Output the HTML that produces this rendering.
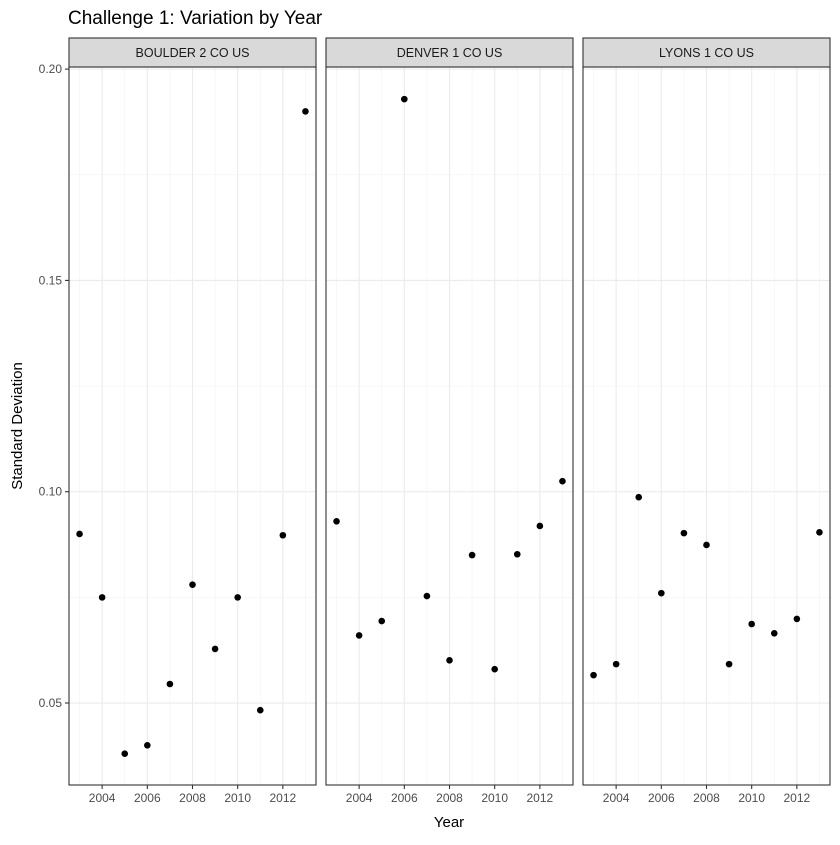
<!DOCTYPE html>
<html><head><meta charset="utf-8"><style>
body{margin:0;background:#fff;font-family:"Liberation Sans",Arial,sans-serif}
</style></head><body>
<svg id="chart" width="840" height="840" xmlns="http://www.w3.org/2000/svg" font-family="Liberation Sans, Arial, sans-serif"></svg>
<script>
const panels = ["BOULDER 2 CO US","DENVER 1 CO US","LYONS 1 CO US"];
const years = [2003,2004,2005,2006,2007,2008,2009,2010,2011,2012,2013];
const boulder = [0.090,0.075,0.038,0.040,0.0545,0.078,0.0628,0.075,0.0483,0.0897,0.190];
const denver = [0.093,0.066,0.0694,0.1929,0.0753,0.0601,0.085,0.058,0.0852,0.0919,0.1025];
const lyons = [0.0566,0.0592,0.0987,0.076,0.0902,0.0874,0.0592,0.0687,0.0665,0.0699,0.0904];
const series = [boulder, denver, lyons];
const xTicks = [2004,2006,2008,2010,2012];
const xMinor = [2003,2005,2007,2009,2011,2013];
const yTicks = [0.05,0.10,0.15,0.20];
const yTickLabels = ["0.05","0.10","0.15","0.20"];
const yMinor = [0.075,0.125,0.175];

const svg = document.getElementById('chart');
const NS = 'http://www.w3.org/2000/svg';
function mk(tag, attrs, parent){const e=document.createElementNS(NS,tag);for(const k in attrs)e.setAttribute(k,attrs[k]);(parent||svg).appendChild(e);return e;}
const plotTop=67,plotBottom=785,ymin=0.0306,ymax=0.2005;
const y = v => plotBottom-(v-ymin)/(ymax-ymin)*(plotBottom-plotTop);
const panelLeft=[69,326,583], pw=247, xmin=2002.533, xmax=2013.467;
const xf = (p,v) => panelLeft[p]+(v-xmin)/(xmax-xmin)*pw;

let t=mk('text',{x:68,y:24,'font-size':19,fill:'#000'});t.textContent='Challenge 1: Variation by Year';



panels.forEach((name,p)=>{
  const g=mk('g',{});
  
  
  const L=panelLeft[p];
  mk('rect',{x:L,y:plotTop,width:pw,height:plotBottom-plotTop,fill:'#fff'},g);
  yMinor.forEach(v=>mk('line',{x1:L,x2:L+pw,y1:y(v),y2:y(v),stroke:'#f2f2f2','stroke-width':0.6},g));
  xMinor.forEach(v=>mk('line',{x1:xf(p,v),x2:xf(p,v),y1:plotTop,y2:plotBottom,stroke:'#f2f2f2','stroke-width':0.6},g));
  yTicks.forEach(v=>mk('line',{x1:L,x2:L+pw,y1:y(v),y2:y(v),stroke:'#ebebeb','stroke-width':1.1},g));
  xTicks.forEach(v=>mk('line',{x1:xf(p,v),x2:xf(p,v),y1:plotTop,y2:plotBottom,stroke:'#ebebeb','stroke-width':1.1},g));
  mk('rect',{x:L,y:plotTop,width:pw,height:plotBottom-plotTop,fill:'none',stroke:'#333','stroke-width':1.1},g);
  const s=mk('rect',{x:L,y:38,width:pw,height:29,fill:'#d9d9d9',stroke:'#333','stroke-width':1.1},g);
  
  
  const st=mk('text',{x:L+pw/2,y:57,'font-size':12.5,fill:'#1a1a1a','text-anchor':'middle'},g);st.textContent=name;
  xTicks.forEach(v=>{
    mk('line',{x1:xf(p,v),x2:xf(p,v),y1:plotBottom,y2:plotBottom+4,stroke:'#333','stroke-width':1.1},g);
    const tl=mk('text',{x:xf(p,v),y:plotBottom+17,'font-size':12,fill:'#4d4d4d','text-anchor':'middle'},g);tl.textContent=v;
    
    
  });
  series[p].forEach((v,i)=>{
    const c=mk('circle',{cx:xf(p,years[i]),cy:y(v),r:3.3,fill:'#000'},g);
    
    
  });
});
yTicks.forEach((v,i)=>{
  mk('line',{x1:65,x2:69,y1:y(v),y2:y(v),stroke:'#333','stroke-width':1.1});
  const tl=mk('text',{x:62,y:y(v)+4,'font-size':12,fill:'#4d4d4d','text-anchor':'end'});tl.textContent=yTickLabels[i];
  
  
});
t=mk('text',{x:449,y:827,'font-size':15,fill:'#000','text-anchor':'middle'});t.textContent='Year';


t=mk('text',{x:0,y:0,'font-size':15,fill:'#000','text-anchor':'middle',transform:'translate(22,426) rotate(-90)'});t.textContent='Standard Deviation';


</script>
</body></html>
